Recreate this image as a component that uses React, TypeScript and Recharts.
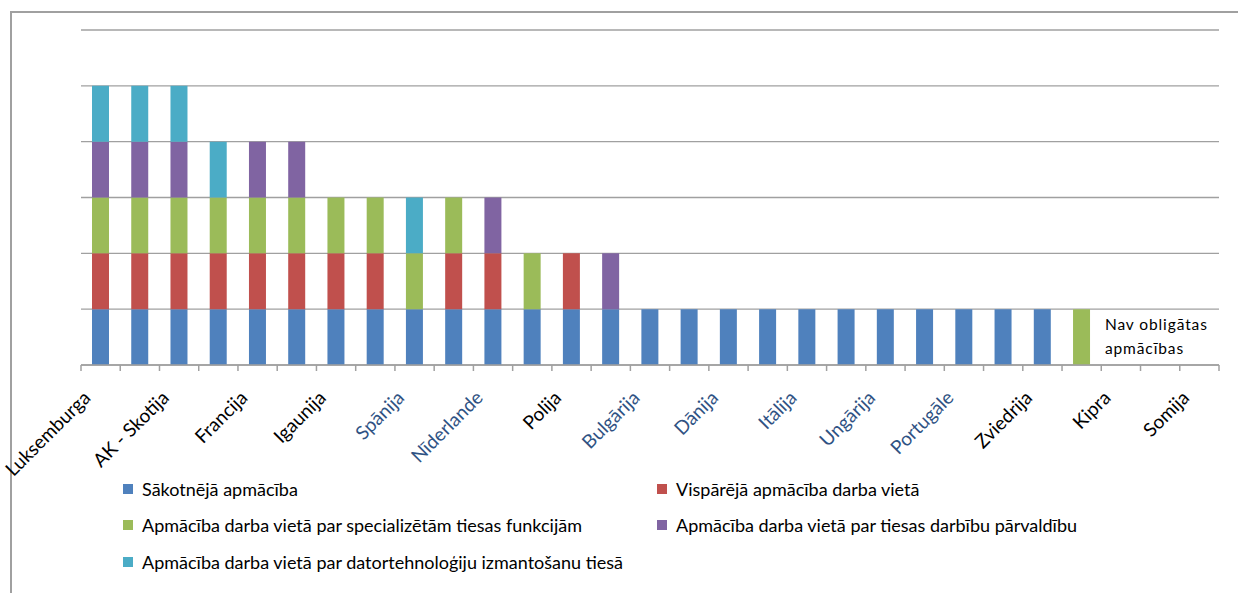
import React from 'react';
import { BarChart, Bar, XAxis, YAxis, CartesianGrid, ReferenceLine } from 'recharts';

const categories = [
  'Luksemburga', 'Austrija', 'AK - Skotija', 'Beļģija', 'Francija', 'Čehija', 'Igaunija', 'Grieķija',
  'Spānija', 'Īrija', 'Nīderlande', 'Lietuva', 'Polija', 'Rumānija', 'Bulgārija', 'Vācija',
  'Dānija', 'Latvija', 'Itālija', 'Malta', 'Ungārija', 'Slovākija', 'Portugāle', 'Slovēnija',
  'Zviedrija', 'AK - Anglija un Velsa', 'Kipra', 'AK - Ziemeļīrija', 'Somija',
];

// one unit per training type present in the country
const sakotneja = [1, 1, 1, 1, 1, 1, 1, 1, 1, 1, 1, 1, 1, 1, 1, 1, 1, 1, 1, 1, 1, 1, 1, 1, 1, 0, 0, 0, 0];
const visparejaDarbaVieta = [1, 1, 1, 1, 1, 1, 1, 1, 0, 1, 1, 0, 1, 0, 0, 0, 0, 0, 0, 0, 0, 0, 0, 0, 0, 0, 0, 0, 0];
const specializetasFunkcijas = [1, 1, 1, 1, 1, 1, 1, 1, 1, 1, 0, 1, 0, 0, 0, 0, 0, 0, 0, 0, 0, 0, 0, 0, 0, 1, 0, 0, 0];
const darbibuParvaldiba = [1, 1, 1, 0, 1, 1, 0, 0, 0, 0, 1, 0, 0, 1, 0, 0, 0, 0, 0, 0, 0, 0, 0, 0, 0, 0, 0, 0, 0];
const datortehnologijas = [1, 1, 1, 1, 0, 0, 0, 0, 1, 0, 0, 0, 0, 0, 0, 0, 0, 0, 0, 0, 0, 0, 0, 0, 0, 0, 0, 0, 0];

const yTicks = [0, 1, 2, 3, 4, 5, 6];

// labels that render with a blue tint in the original
const tintedLabels = ['Spānija', 'Nīderlande', 'Bulgārija', 'Dānija', 'Itālija', 'Ungārija', 'Portugāle'];

const SERIES = [
  { key: 's1', name: 'Sākotnējā apmācība', color: '#4F81BD' },
  { key: 's2', name: 'Vispārējā apmācība darba vietā', color: '#C0504D' },
  { key: 's3', name: 'Apmācība darba vietā par specializētām tiesas funkcijām', color: '#9BBB59' },
  { key: 's4', name: 'Apmācība darba vietā par tiesas darbību pārvaldību', color: '#8064A2' },
  { key: 's5', name: 'Apmācība darba vietā par datortehnoloģiju izmantošanu tiesā', color: '#4BACC6' },
];

const data = categories.map((name, i) => ({
  name,
  s1: sakotneja[i],
  s2: visparejaDarbaVieta[i],
  s3: specializetasFunkcijas[i],
  s4: darbibuParvaldiba[i],
  s5: datortehnologijas[i],
}));

const W = 1238;
const H = 593;
const M = { top: 30, right: 19, left: 81, bottom: 198 };
const BAND = (W - M.left - M.right) / categories.length;
const FONT = 'Lato, "Open Sans", sans-serif';
const GRID = '#a0a0a0';

const CountryTick = ({ x, y, payload }: any) => {
  const tinted = tintedLabels.includes(payload.value);
  const ax = x - 9;
  const ay = y + 34;
  return (
    <g>
      <line x1={x - BAND / 2} x2={x - BAND / 2} y1={y} y2={y + 6} stroke={GRID} strokeWidth={1.5} />
      <line x1={x + BAND / 2} x2={x + BAND / 2} y1={y} y2={y + 6} stroke={GRID} strokeWidth={1.5} />
      <text
        x={ax} y={ay}
        transform={`rotate(-45, ${ax}, ${ay})`}
        textAnchor="end"
        fontFamily={FONT}
        fontSize={19}
        fill={tinted ? '#2f5283' : '#000'}
      >
        {payload.value}
      </text>
    </g>
  );
};

const NoteLabel = ({ viewBox }: any) => {
  if (!viewBox) return null;
  const bottom = viewBox.y + viewBox.height;
  const x = viewBox.x - 16;
  return (
    <text fontFamily={FONT} fontSize={15.5} fill="#000" letterSpacing={0.9}>
      <tspan x={x} y={bottom - 35}>Nav obligātas</tspan>
      <tspan x={x} y={bottom - 11}>apmācības</tspan>
    </text>
  );
};

export default function App() {
  const legendPos = [
    { left: 123, top: 490 },
    { left: 657, top: 490 },
    { left: 123, top: 526 },
    { left: 657, top: 526 },
    { left: 123, top: 563 },
  ];
  return (
    <div style={{ position: 'absolute', left: 0, top: 0, width: W, height: H, background: '#fff', overflow: 'hidden' }}>
      {/* outer frame */}
      <div style={{ position: 'absolute', left: 10, top: 11, right: -4, bottom: -4, borderLeft: `2px solid ${GRID}`, borderTop: `2px solid ${GRID}` }} />
      <div style={{ position: 'absolute', left: 0, top: 0 }}>
        <BarChart width={W} height={H} data={data} margin={M} barSize={17}>
          <CartesianGrid vertical={false} stroke={GRID} strokeWidth={1.3} />
          <XAxis
            dataKey="name"
            interval={1}
            height={30}
            tickSize={0}
            tickMargin={0}
            tickLine={false}
            axisLine={{ stroke: GRID, strokeWidth: 1.5 }}
            tick={<CountryTick />}
          />
          <YAxis hide width={0} domain={[0, 6]} ticks={yTicks} />
          {SERIES.map(s => (
            <Bar key={s.key} dataKey={s.key} name={s.name} stackId="a" fill={s.color} isAnimationActive={false} />
          ))}
          <ReferenceLine x="Kipra" stroke="none" label={<NoteLabel />} />
        </BarChart>
      </div>
      {SERIES.map((s, i) => (
        <div key={s.key} style={{
          position: 'absolute', left: legendPos[i].left, top: legendPos[i].top - 12,
          display: 'flex', alignItems: 'center', height: 22,
          fontFamily: FONT, fontSize: 18, color: '#000', whiteSpace: 'nowrap',
        }}>
          <span style={{ width: 10, height: 10, background: s.color, marginRight: 9, display: 'inline-block' }} />
          {s.name}
        </div>
      ))}
    </div>
  );
}
